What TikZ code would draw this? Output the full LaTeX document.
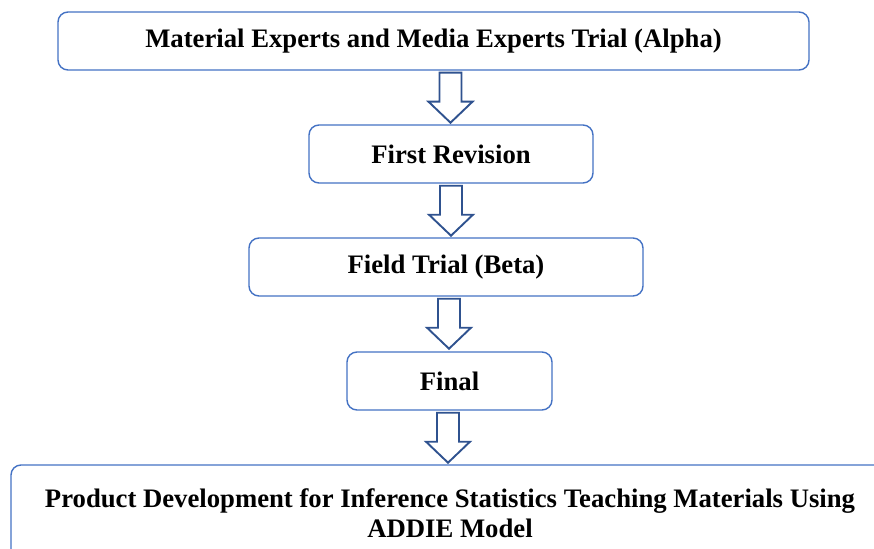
\documentclass[tikz,border=0pt]{standalone}
\usepackage{fontspec}
\setmainfont{Liberation Serif}
\usetikzlibrary{calc}
\definecolor{boxblue}{HTML}{4472C4}
\definecolor{arrowblue}{HTML}{2F528F}
\tikzset{
  stagebox/.style={draw=boxblue, line width=1.4pt, rounded corners=10pt, fill=white,
    inner sep=0pt, align=center, font=\fontsize{26.7}{30}\selectfont\bfseries},
  blockarrow/.style={draw=arrowblue, line width=1.9pt, fill=white, line join=miter}
}
% hollow block arrow pointing down from the bottom of box #2, centred at x=#1
\newcommand\downblock[2]{%
  \draw[blockarrow] let \p1=(#2.south) in
    (#1pt-11pt,\y1-2pt) -- (#1pt+11pt,\y1-2pt) -- (#1pt+11pt,\y1-31pt) --
    (#1pt+22pt,\y1-31pt) -- (#1pt,\y1-52pt) -- (#1pt-22pt,\y1-31pt) --
    (#1pt-11pt,\y1-31pt) -- cycle;}
\begin{document}
\begin{tikzpicture}[x=1pt,y=-1pt]
  \useasboundingbox (0,0) rectangle (874,548);
  \clip (0,0) rectangle (874,548);

  \node[stagebox, minimum width=751pt, minimum height=58pt] (alpha) at (433.5,41)
    {Material Experts and Media Experts Trial (Alpha)};
  \node[stagebox, minimum width=284pt, minimum height=58pt] (rev) at (451,154)
    {First Revision};
  \node[stagebox, minimum width=394pt, minimum height=58pt] (beta) at (446,267)
    {Field Trial (Beta)};
  \node[stagebox, minimum width=205pt, minimum height=58pt] (final) at (449.5,381)
    {Final};
  \node[stagebox, minimum width=878pt, minimum height=96pt] (product) at (450,513)
    {Product Development for Inference Statistics Teaching Materials Using\\ADDIE Model};

  \downblock{450.5}{alpha}
  \downblock{451}{rev}
  \downblock{449}{beta}
  \downblock{448}{final}
\end{tikzpicture}
\end{document}
